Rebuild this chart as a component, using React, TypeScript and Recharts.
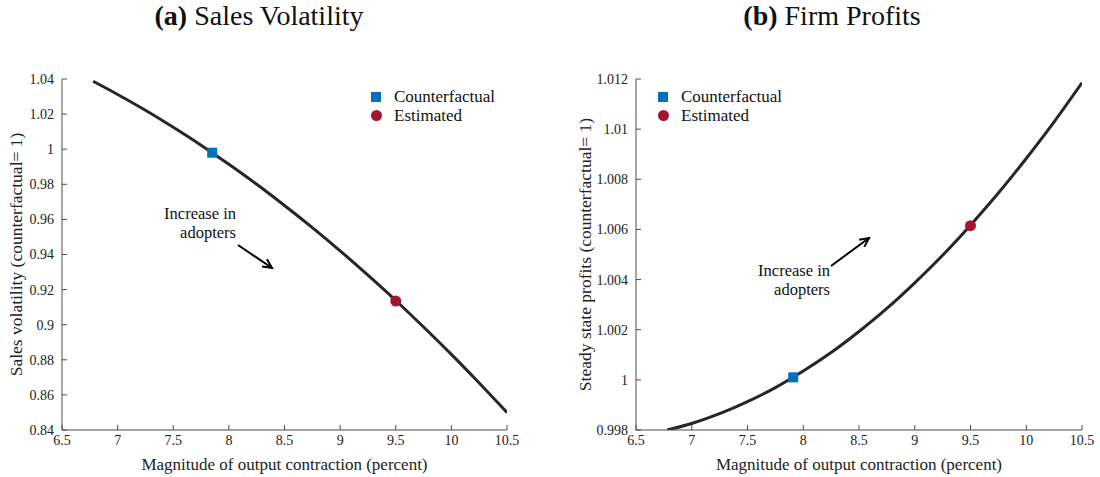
import React from 'react';
import { ComposedChart, Line, Scatter, XAxis, YAxis } from 'recharts';

const contraction = [6.78, 7, 7.25, 7.5, 7.75, 8, 8.25, 8.5, 8.75, 9, 9.25, 9.5, 9.75, 10, 10.25, 10.5];
const salesVolatility = [1.0387, 1.0312, 1.0222, 1.0125, 1.0023, 0.9914, 0.98, 0.9679, 0.9553, 0.9421, 0.9282, 0.9138, 0.8987, 0.8831, 0.8668, 0.85];
const firmProfits = [0.998, 0.99826, 0.99865, 0.99913, 0.99969, 1.00035, 1.00109, 1.00193, 1.00285, 1.00387, 1.00497, 1.00617, 1.00745, 1.00883, 1.01029, 1.01185];

const salesCounterfactual = [{ x: 7.85, y: 0.998 }];
const salesEstimated = [{ x: 9.5, y: 0.9135 }];
const profitCounterfactual = [{ x: 7.91, y: 1.0001 }];
const profitEstimated = [{ x: 9.5, y: 1.00615 }];

const xTicks = [6.5, 7, 7.5, 8, 8.5, 9, 9.5, 10, 10.5];
const salesTicks = [0.84, 0.86, 0.88, 0.9, 0.92, 0.94, 0.96, 0.98, 1, 1.02, 1.04];
const profitTicks = [0.998, 1, 1.002, 1.004, 1.006, 1.008, 1.01, 1.012];

const FONT = 'Liberation Serif, DejaVu Serif, serif';
const BLUE = '#0072BD';
const RED = '#A2142F';
const AXIS = '#4a4a4a';

const salesData = contraction.map((x, i) => ({ x, y: salesVolatility[i] }));
const profitData = contraction.map((x, i) => ({ x, y: firmProfits[i] }));

const fmt = (v: number) => String(Number(v.toFixed(3)));

const Square = (p: any) => <rect x={p.cx - 5} y={p.cy - 5} width={10} height={10} fill={BLUE} />;
const Dot = (p: any) => <circle cx={p.cx} cy={p.cy} r={5.5} fill={RED} />;

const LegendBox = (props: { left: number }) => (
    <div style={{ position: 'absolute', left: props.left, top: 87, fontFamily: FONT, fontSize: 17, color: '#111', lineHeight: '19px' }}>
        <div style={{ display: 'flex', alignItems: 'center' }}>
            <span style={{ display: 'inline-block', width: 10, height: 10, background: BLUE, marginRight: 13 }}></span>
            Counterfactual
        </div>
        <div style={{ display: 'flex', alignItems: 'center' }}>
            <span style={{ display: 'inline-block', width: 11, height: 11, borderRadius: '50%', background: RED, marginRight: 12 }}></span>
            Estimated
        </div>
    </div>
);

const Panel = (props: {
    data: { x: number; y: number }[];
    cf: { x: number; y: number }[];
    est: { x: number; y: number }[];
    ticks: number[];
    yLabel: string;
    yWidth: number;
    left: number;
    right: number;
    labelOffset: number;
}) => {
    const tickStyle = { fontFamily: FONT, fontSize: 14, fill: '#222' };
    return (
        <ComposedChart
            width={550}
            height={477}
            style={{ fontFamily: FONT }}
            margin={{ top: 79, right: props.right, bottom: 0, left: props.left - props.yWidth }}
        >
            <XAxis
                type="number"
                dataKey="x"
                domain={[6.5, 10.5]}
                ticks={xTicks}
                tickFormatter={fmt}
                height={47}
                tickSize={-5}
                tickMargin={10}
                stroke={AXIS}
                tick={tickStyle}
                fontFamily={FONT}
                label={{ value: 'Magnitude of output contraction (percent)', position: 'insideBottom', offset: 7, fontFamily: FONT, style: { fontFamily: FONT, fontSize: 17, fill: '#222' } }}
                allowDataOverflow
            />
            <YAxis
                type="number"
                domain={[props.ticks[0], props.ticks[props.ticks.length - 1]]}
                ticks={props.ticks}
                tickFormatter={fmt}
                width={props.yWidth}
                tickSize={-5}
                tickMargin={13}
                stroke={AXIS}
                tick={tickStyle}
                fontFamily={FONT}
                label={{ value: props.yLabel, angle: -90, position: 'insideLeft', offset: props.labelOffset, fontFamily: FONT, style: { fontFamily: FONT, fontSize: 17.5, fill: '#222', textAnchor: 'middle' } }}
                allowDataOverflow
            />
            <Line data={props.data} type="monotone" dataKey="y" stroke="#262626" strokeWidth={3} dot={false} isAnimationActive={false} />
            <Scatter data={props.cf} dataKey="y" shape={Square} isAnimationActive={false} />
            <Scatter data={props.est} dataKey="y" shape={Dot} isAnimationActive={false} />
        </ComposedChart>
    );
};

const Arrow = (p: { x1: number; y1: number; x2: number; y2: number }) => {
    const ang = Math.atan2(p.y2 - p.y1, p.x2 - p.x1);
    const L = 10;
    const w = 0.45;
    const a = `${p.x2 - L * Math.cos(ang - w)},${p.y2 - L * Math.sin(ang - w)}`;
    const b = `${p.x2 - L * Math.cos(ang + w)},${p.y2 - L * Math.sin(ang + w)}`;
    return (
        <g>
            <line x1={p.x1} y1={p.y1} x2={p.x2} y2={p.y2} stroke="#000" strokeWidth={2} />
            <polyline points={`${a} ${p.x2},${p.y2} ${b}`} fill="none" stroke="#000" strokeWidth={2} />
        </g>
    );
};

const App = () => {
    const title = { position: 'absolute' as const, top: 0, fontFamily: FONT, fontSize: 28, color: '#111', width: 400, textAlign: 'center' as const };
    const note = { fontFamily: FONT, fontSize: 16.5, fill: '#111' };
    return (
        <div style={{ position: 'absolute', left: 0, top: 0, width: 1100, height: 477, background: '#fff', fontFamily: FONT }}>
            <div style={{ ...title, left: 259 - 200 }}><b>(a)</b> Sales Volatility</div>
            <div style={{ ...title, left: 832 - 200 }}><b>(b)</b> Firm Profits</div>
            <div style={{ position: 'absolute', left: 0, top: 0 }}>
                <Panel data={salesData} cf={salesCounterfactual} est={salesEstimated} ticks={salesTicks}
                    yLabel="Sales volatility (counterfactual= 1)" yWidth={50} left={62} right={43} labelOffset={4} />
            </div>
            <div style={{ position: 'absolute', left: 550, top: 0 }}>
                <Panel data={profitData} cf={profitCounterfactual} est={profitEstimated} ticks={profitTicks}
                    yLabel="Steady state profits (counterfactual= 1)" yWidth={60} left={86} right={18} labelOffset={9} />
            </div>
            <LegendBox left={371} />
            <LegendBox left={658} />
            <svg width={1100} height={477} fontFamily={FONT} style={{ position: 'absolute', left: 0, top: 0, pointerEvents: 'none' }}>
                <text x={236} y={219} textAnchor="end" fontFamily={FONT} style={note}>Increase in</text>
                <text x={236} y={238} textAnchor="end" fontFamily={FONT} style={note}>adopters</text>
                <Arrow x1={238} y1={245} x2={272} y2={268} />
                <text x={830} y={276} textAnchor="end" fontFamily={FONT} style={note}>Increase in</text>
                <text x={830} y={295} textAnchor="end" fontFamily={FONT} style={note}>adopters</text>
                <Arrow x1={831} y1={266} x2={869} y2={238} />
            </svg>
        </div>
    );
};

export default App;
